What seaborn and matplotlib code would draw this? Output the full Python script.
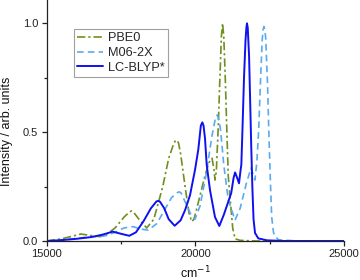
import matplotlib
matplotlib.use("Agg")
import matplotlib.pyplot as plt
import seaborn as sns
import pandas as pd
from matplotlib.ticker import FixedLocator

# ---- data ----
pbe0_x = [15000, 15500, 15800, 16150, 16500, 16790, 17000, 17300, 17600, 17780,
          17856, 17930, 18100, 18360, 18600, 18900, 19100, 19250, 19310, 19368,
          19430, 19500, 19650, 19780, 19872, 19950, 20100, 20300, 20450, 20555,
          20620, 20655, 20700, 20766, 20820, 20870, 20910, 20950, 21000, 21048,
          21100, 21160, 21250, 21330, 21500, 22000, 25000]
pbe0_y = [0.0, 0.01, 0.02, 0.032, 0.025, 0.02, 0.03, 0.06, 0.11, 0.133,
          0.138, 0.13, 0.10, 0.06, 0.10, 0.25, 0.38, 0.44, 0.458, 0.464,
          0.45, 0.40, 0.25, 0.13, 0.089, 0.10, 0.18, 0.29, 0.36, 0.38,
          0.33, 0.28, 0.32, 0.53, 0.75, 0.94, 1.0, 0.94, 0.75, 0.53,
          0.30, 0.20, 0.06, 0.01, 0.003, 0.0, 0.0]

m06_x = [15000, 15500, 16000, 16500, 16800, 17000, 17300, 17600, 17910, 18150,
         18414, 18700, 18950, 19200, 19390, 19456, 19520, 19650, 19850, 19983,
         20150, 20350, 20550, 20670, 20734, 20800, 20850, 20950, 21100, 21327,
         21500, 21700, 21865, 21997, 22060, 22120, 22180, 22240, 22270, 22300,
         22330, 22360, 22420, 22460, 22510, 22560, 22620, 22671, 22800, 23500,
         25000]
m06_y = [0.0, 0.005, 0.012, 0.02, 0.02, 0.025, 0.04, 0.06, 0.066, 0.055,
         0.05, 0.08, 0.14, 0.20, 0.222, 0.226, 0.22, 0.18, 0.12, 0.10,
         0.16, 0.30, 0.48, 0.565, 0.579, 0.55, 0.50, 0.35, 0.19, 0.096,
         0.15, 0.26, 0.335, 0.28, 0.36, 0.50, 0.72, 0.92, 0.97, 0.985,
         0.97, 0.93, 0.72, 0.52, 0.30, 0.11, 0.04, 0.02, 0.005, 0.0,
         0.0]

lc_x = [15000, 15500, 16000, 16500, 16900, 17218, 17500, 17776, 18000, 18250,
        18500, 18690, 18750, 18810, 18950, 19100, 19300, 19500, 19650, 19815,
        19983, 20094, 20180, 20229, 20270, 20320, 20376, 20487, 20655, 20800,
        20950, 21100, 21200, 21280, 21330, 21400, 21462, 21510, 21540, 21580,
        21630, 21680, 21710, 21730, 21755, 21800, 21830, 21870, 21910, 21950,
        22000, 22110, 22400, 23000, 25000]
lc_y = [0.0, 0.004, 0.01, 0.018, 0.03, 0.043, 0.033, 0.024, 0.04, 0.09,
        0.15, 0.182, 0.184, 0.18, 0.15, 0.10, 0.07, 0.095, 0.142, 0.21,
        0.326, 0.42, 0.53, 0.545, 0.53, 0.47, 0.35, 0.234, 0.11, 0.069,
        0.12, 0.18, 0.22, 0.29, 0.315, 0.29, 0.265, 0.32, 0.35, 0.52,
        0.75, 0.92, 0.98, 1.0, 0.98, 0.85, 0.68, 0.45, 0.25, 0.10,
        0.037, 0.012, 0.003, 0.0, 0.0]

labels = ["PBE0", "M06-2X", "LC-BLYP*"]
x_ticks = [15000, 20000, 25000]
y_ticks = [0.0, 0.5, 1.0]

# ---- style ----
sns.set_theme(style="ticks")
plt.rcParams["font.family"] = ["Liberation Sans", "DejaVu Sans"]

fig = plt.figure(figsize=(3.6, 2.8), dpi=100)
ax = fig.add_axes([0.1297, 0.1393, 0.8267, 0.8607])

df_p = pd.DataFrame({"x": pbe0_x, "y": pbe0_y})
df_m = pd.DataFrame({"x": m06_x, "y": m06_y})
df_l = pd.DataFrame({"x": lc_x, "y": lc_y})

sns.lineplot(data=df_p, x="x", y="y", ax=ax, color="#6f8f1e", lw=1.2,
             label=labels[0], sort=False, estimator=None)
ax.lines[-1].set_dashes([5, 1.8, 1.3, 1.8])
sns.lineplot(data=df_m, x="x", y="y", ax=ax, color="#5aaaf0", lw=1.2,
             label=labels[1], sort=False, estimator=None)
ax.lines[-1].set_dashes([4, 2.5])
sns.lineplot(data=df_l, x="x", y="y", ax=ax, color="#1010f0", lw=1.4,
             label=labels[2], sort=False, estimator=None)
for ln in ax.lines:
    ln.set_solid_joinstyle("round")
    ln.set_dash_joinstyle("round")

ax.set_xlim(15000, 25000)
ax.set_ylim(0, 1.107)
ax.xaxis.set_major_locator(FixedLocator(x_ticks))
ax.xaxis.set_minor_locator(FixedLocator([17500, 22500]))
ax.yaxis.set_major_locator(FixedLocator(y_ticks))
ax.yaxis.set_minor_locator(FixedLocator([0.25, 0.75]))
ax.set_xticklabels([str(t) for t in x_ticks])
ax.set_yticklabels([f"{t:.1f}" for t in y_ticks])
ax.tick_params(axis="both", which="major", direction="out", length=3.5, width=0.9,
               labelsize=8, colors="#222222", pad=2.5)
ax.tick_params(axis="both", which="minor", direction="out", length=2.5, width=0.9,
               colors="#222222")
sns.despine(ax=ax)
for s in ["left", "bottom"]:
    ax.spines[s].set_color("#222222")
    ax.spines[s].set_linewidth(0.9)

ax.set_xlabel("cm$^{-1}$", fontsize=9, color="#111111")
ax.xaxis.set_label_coords(0.5, -0.098)
ax.xaxis.label.set_va("top")
ax.set_ylabel("Intensity / arb. units", fontsize=9, color="#111111")
ax.yaxis.set_label_coords(-0.132, 0.454)
ax.yaxis.label.set_va("center")

leg = ax.legend(loc="upper left", bbox_to_anchor=(74/360, 1-29/280),
                bbox_transform=fig.transFigure, borderaxespad=0,
                fontsize=9.2, frameon=True, fancybox=False, handlelength=2.0,
                handletextpad=0.4, labelspacing=0.22, borderpad=0.25)
leg.get_frame().set_edgecolor("#888888")
leg.get_frame().set_linewidth(0.8)

fig.savefig("out.png", dpi=100)
